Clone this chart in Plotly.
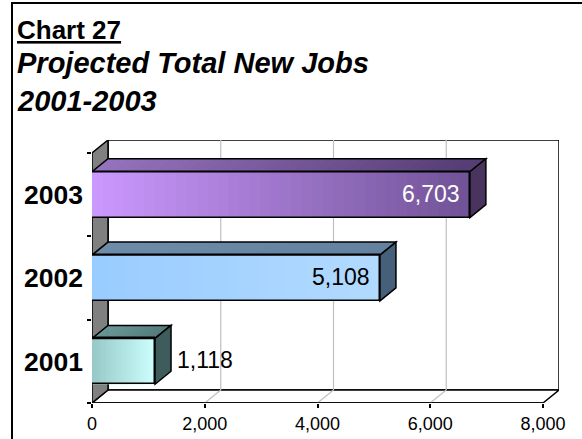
import plotly.graph_objects as go

# ---- data -------------------------------------------------------------
years = ["2001", "2002", "2003"]
new_jobs = [1118, 5108, 6703]
x_ticks = [0, 2000, 4000, 6000, 8000]

chart_number = "Chart 27"
title_lines = ["Projected Total New Jobs", "2001-2003"]

# ---- per-bar colours: front (left -> right), top (left -> right), side
front_left = {"2001": (150, 200, 200), "2002": (153, 204, 255), "2003": (204, 153, 255)}
front_right = {"2001": (205, 255, 255), "2002": (178, 218, 255), "2003": (112, 82, 150)}
top_left = {"2001": (105, 150, 150), "2002": (110, 140, 170), "2003": (150, 115, 190)}
top_right = {"2001": (80, 120, 120), "2002": (100, 130, 160), "2003": (85, 60, 115)}
side_col = {"2001": (62, 92, 92), "2002": (70, 95, 122), "2003": (72, 52, 95)}
label_col = {"2001": "black", "2002": "black", "2003": "white"}

# ---- geometry (pixels) ------------------------------------------------
W, H = 582, 439
L, R, T, B = 92, 23, 140, 36
X_MAX = x_ticks[-1]
DEPTH_X, DEPTH_Y = 16, 13
front_w = W - L - R - DEPTH_X
px_per_unit = front_w / X_MAX
cat_px = (H - B - T - DEPTH_Y) / len(years)
dxu = DEPTH_X / px_per_unit          # depth in x data units
dyu = DEPTH_Y / cat_px               # depth in category units
BAR_W = 0.55
FONT = "Liberation Sans, Arial, sans-serif"
plot_w, plot_h = W - L - R, H - T - B


def paper_x(px):
    return (px - L) / plot_w


def paper_y(py):
    return (H - B - py) / plot_h


def rgb(c):
    return "rgb(%d,%d,%d)" % tuple(int(round(v)) for v in c)


def mix(a, b, t):
    return tuple(a[i] + (b[i] - a[i]) * t for i in range(3))


shapes = []
LINE = dict(color="black", width=1.5)
y_lo, y_hi = -0.5, len(years) - 0.5

# back wall
shapes.append(dict(type="rect", xref="x", yref="y", x0=dxu, x1=X_MAX + dxu,
                   y0=y_lo + dyu, y1=y_hi + dyu, fillcolor="white", line=LINE,
                   layer="below"))
# floor
shapes.append(dict(type="path", xref="x", yref="y",
                   path=f"M 0,{y_lo} L {X_MAX},{y_lo} L {X_MAX + dxu},{y_lo + dyu} "
                        f"L {dxu},{y_lo + dyu} Z",
                   fillcolor="white", line=LINE, layer="below"))
# gridlines on back wall and floor
for v in x_ticks[1:-1]:
    shapes.append(dict(type="line", xref="x", yref="y", x0=v + dxu, x1=v + dxu,
                       y0=y_lo + dyu, y1=y_hi + dyu,
                       line=dict(color="#c0c0c0", width=1.2), layer="below"))
    shapes.append(dict(type="line", xref="x", yref="y", x0=v, x1=v + dxu,
                       y0=y_lo, y1=y_lo + dyu,
                       line=dict(color="#c0c0c0", width=1.2), layer="below"))
# left wall
shapes.append(dict(type="path", xref="x", yref="y",
                   path=f"M 0,{y_lo} L {dxu},{y_lo + dyu} L {dxu},{y_hi + dyu} "
                        f"L 0,{y_hi} Z",
                   fillcolor="#808080", line=LINE, layer="below"))
# floor front edge (axis line)
shapes.append(dict(type="line", xref="x", yref="y", x0=0, x1=X_MAX, y0=y_lo, y1=y_lo,
                   line=dict(color="black", width=1.5), layer="below"))

# 3-D bar faces
N = 36
for i, (yr, v) in enumerate(zip(years, new_jobs)):
    yb, yt = i - BAR_W / 2, i + BAR_W / 2
    step = v / N
    for k in range(N):
        xa = k * step
        xb = min(v, (k + 1) * step + step * 0.4)
        t = (k + 0.5) / N
        # front face gradient strip
        shapes.append(dict(type="rect", xref="x", yref="y", x0=xa, x1=xb,
                           y0=yb, y1=yt, fillcolor=rgb(mix(front_left[yr], front_right[yr], t)),
                           line=dict(width=0), layer="below"))
        # top face gradient strip
        shapes.append(dict(type="path", xref="x", yref="y",
                           path=f"M {xa},{yt} L {xa + dxu},{yt + dyu} L {xb + dxu},{yt + dyu} "
                                f"L {xb},{yt} Z",
                           fillcolor=rgb(mix(top_left[yr], top_right[yr], t)),
                           line=dict(width=0), layer="below"))
    # top face outline
    shapes.append(dict(type="path", xref="x", yref="y",
                       path=f"M 0,{yt} L {dxu},{yt + dyu} L {v + dxu},{yt + dyu} L {v},{yt} Z",
                       line=LINE, layer="below"))
    # side face
    shapes.append(dict(type="path", xref="x", yref="y",
                       path=f"M {v},{yt} L {v + dxu},{yt + dyu} L {v + dxu},{yb + dyu} "
                            f"L {v},{yb} Z",
                       fillcolor=rgb(side_col[yr]), line=LINE, layer="below"))

# outer frame
shapes.append(dict(type="rect", xref="paper", yref="paper",
                   x0=paper_x(12), x1=paper_x(640), y0=paper_y(3), y1=paper_y(500),
                   line=dict(color="black", width=2), layer="above"))

fig = go.Figure(go.Bar(
    x=new_jobs, y=years, orientation="h", width=BAR_W,
    marker=dict(color="rgba(0,0,0,0)", line=dict(color="black", width=1.5)),
    hoverinfo="skip",
))

annotations = []
# value labels: inside the bar end for long bars, beyond the 3-D side otherwise
for i, (yr, v) in enumerate(zip(years, new_jobs)):
    inside = v > 3000
    annotations.append(dict(
        xref="x", yref="y", x=v, y=i, text=f"{v:,}", showarrow=False,
        xanchor="right" if inside else "left", yanchor="middle",
        xshift=-8 if inside else 20, yshift=1,
        font=dict(family=FONT, size=23, color=label_col[yr]),
    ))
# titles
annotations.append(dict(xref="paper", yref="paper", x=paper_x(15), y=paper_y(30),
                        text=f"<u>{chart_number}</u>", showarrow=False,
                        xanchor="left", yanchor="middle",
                        font=dict(family=FONT, size=26, color="black", weight="bold")))
for line_text, cy in zip(title_lines, [63, 101]):
    annotations.append(dict(xref="paper", yref="paper", x=paper_x(15), y=paper_y(cy),
                            text=f"<i>{line_text}</i>", showarrow=False,
                            xanchor="left", yanchor="middle",
                            font=dict(family=FONT, size=29, color="black",
                                      weight="bold", style="italic")))

fig.update_layout(
    width=W, height=H,
    margin=dict(l=L, r=R, t=T, b=B, pad=0, autoexpand=False),
    paper_bgcolor="white", plot_bgcolor="rgba(0,0,0,0)",
    showlegend=False,
    shapes=shapes, annotations=annotations,
    font=dict(family=FONT, color="black"),
    bargap=0,
)
fig.update_xaxes(
    range=[0, X_MAX + dxu], tickvals=x_ticks, tickformat=",d",
    showgrid=False, zeroline=False, showline=False, automargin=False,
    ticks="outside", ticklen=4, tickwidth=1.5, tickcolor="black",
    ticklabelstandoff=0,
    tickfont=dict(family=FONT, size=18, color="black"),
    fixedrange=True,
)
fig.update_yaxes(
    type="category", categoryorder="array", categoryarray=years,
    range=[y_lo, y_hi + dyu], automargin=False,
    showgrid=False, zeroline=False, showline=False,
    ticks="outside", tickson="boundaries", ticklen=4, tickwidth=1.5, tickcolor="black",
    ticklabelstandoff=8,
    tickfont=dict(family=FONT, size=26.5, color="black", weight="bold"),
    fixedrange=True,
)

fig.write_html("out.html")
